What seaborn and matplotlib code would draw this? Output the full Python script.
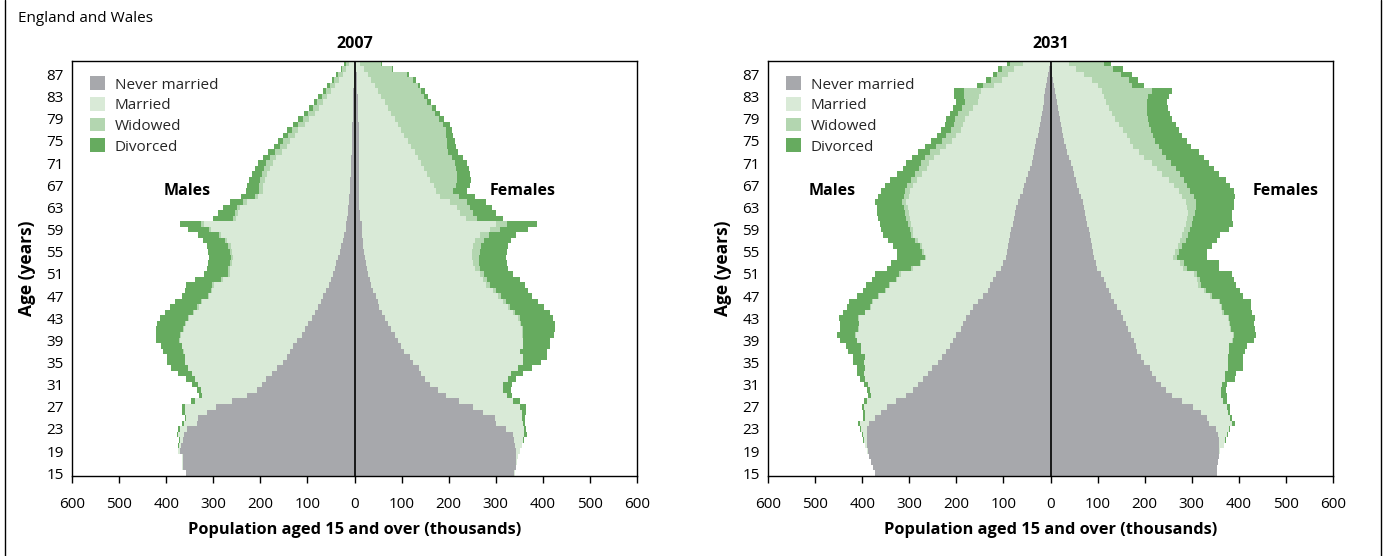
import numpy as np
import pandas as pd
import matplotlib
matplotlib.use("Agg")
import matplotlib.pyplot as plt
import seaborn as sns
from matplotlib.patches import Patch
from matplotlib.lines import Line2D

# ---------------- data (thousands), ages 15..89 ----------------
ages = list(range(15, 90))
statuses = ["Never married", "Married", "Widowed", "Divorced"]
years = ["2007", "2031"]
age_ticks = list(range(15, 88, 4))
x_ticks = list(range(-600, 601, 100))

males_2007_never = [358, 365, 365, 365, 371, 369, 364, 362, 355, 335,
                    333, 314, 294, 261, 229, 208, 197, 187, 176, 165,
                    152, 144, 137, 130, 123, 112, 105, 98, 91, 84,
                    77, 72, 66, 60, 55, 50, 45, 42, 39, 35,
                    31, 28, 25, 22, 19, 18, 16, 14, 13, 12,
                    11, 10, 9, 9, 8, 8, 7, 7, 6, 6,
                    6, 5, 5, 5, 4, 4, 4, 3, 3, 3,
                    2, 2, 2, 1, 1]
males_2007_married = [0, 1, 1, 2, 3, 4, 6, 12, 16, 28,
                      24, 47, 66, 78, 94, 118, 135, 152, 170, 188,
                      208, 216, 226, 236, 248, 256, 258, 260, 260, 257,
                      254, 251, 243, 242, 243, 230, 219, 222, 222, 223,
                      229, 235, 246, 261, 285, 302, 236, 233, 230, 217,
                      194, 185, 185, 182, 177, 172, 167, 159, 149, 138,
                      131, 122, 114, 101, 92, 80, 71, 63, 55, 46,
                      39, 30, 23, 16, 10]
males_2007_widowed = [0, 0, 0, 0, 0, 0, 0, 0, 0, 0,
                      0, 0, 0, 0, 0, 0, 0, 0, 0, 0,
                      0, 0, 1, 1, 1, 2, 2, 2, 2, 3,
                      3, 3, 3, 3, 4, 4, 4, 4, 4, 4,
                      5, 5, 5, 5, 5, 6, 6, 6, 6, 7,
                      7, 8, 9, 10, 11, 13, 13, 13, 14, 14,
                      14, 14, 14, 14, 14, 14, 13, 13, 12, 12,
                      12, 11, 10, 9, 8]
males_2007_divorced = [0, 0, 0, 0, 0, 1, 3, 4, 4, 3,
                       3, 5, 7, 9, 7, 9, 14, 18, 28, 36,
                       39, 39, 42, 43, 49, 52, 56, 59, 60, 59,
                       58, 56, 55, 55, 55, 55, 52, 46, 46, 46,
                       46, 46, 45, 44, 44, 45, 42, 36, 30, 28,
                       30, 27, 26, 24, 22, 18, 17, 15, 14, 13,
                       11, 11, 10, 10, 9, 9, 8, 7, 7, 6,
                       6, 5, 4, 3, 3]

females_2007_never = [338, 343, 344, 344, 343, 340, 338, 337, 321, 301,
                      298, 273, 252, 223, 195, 177, 160, 149, 142, 137,
                      124, 117, 106, 99, 92, 85, 78, 71, 65, 59,
                      53, 50, 45, 39, 35, 32, 29, 27, 25, 22,
                      20, 18, 17, 16, 15, 15, 12, 11, 10, 10,
                      9, 9, 9, 9, 9, 9, 9, 9, 9, 9,
                      9, 9, 9, 9, 8, 8, 8, 7, 7, 6,
                      6, 5, 5, 4, 3]
females_2007_married = [2, 1, 2, 4, 8, 15, 19, 23, 38, 57,
                        57, 82, 99, 114, 128, 138, 156, 177, 191, 211,
                        234, 241, 245, 258, 266, 270, 277, 280, 283, 278,
                        273, 266, 260, 255, 245, 241, 237, 228, 227, 228,
                        230, 234, 238, 250, 272, 285, 225, 214, 207, 192,
                        172, 165, 159, 152, 145, 139, 133, 126, 119, 112,
                        104, 97, 90, 83, 77, 70, 63, 57, 50, 44,
                        37, 30, 23, 17, 8]
females_2007_widowed = [0, 0, 0, 0, 0, 0, 0, 0, 0, 0,
                        0, 0, 0, 0, 0, 0, 0, 0, 0, 0,
                        0, 0, 0, 0, 0, 2, 3, 3, 4, 4,
                        5, 5, 6, 7, 8, 9, 10, 12, 13, 14,
                        16, 17, 20, 20, 22, 24, 24, 26, 28, 36,
                        40, 36, 47, 57, 64, 68, 71, 72, 71, 76,
                        83, 88, 95, 97, 94, 92, 93, 90, 91, 92,
                        91, 90, 84, 58, 46]
females_2007_divorced = [0, 0, 0, 0, 0, 0, 3, 7, 6, 4,
                         7, 10, 14, 14, 12, 18, 19, 18, 25, 30,
                         39, 50, 58, 58, 57, 66, 68, 72, 70, 74,
                         71, 69, 65, 68, 74, 69, 61, 59, 58, 57,
                         57, 57, 58, 58, 60, 63, 55, 50, 46, 42,
                         34, 28, 31, 30, 28, 27, 25, 23, 21, 19,
                         17, 15, 14, 13, 12, 11, 10, 9, 8, 7,
                         6, 5, 4, 3, 2]

males_2031_never = [373, 377, 381, 385, 388, 389, 390, 390, 389, 385,
                    373, 361, 348, 329, 307, 292, 281, 271, 260, 251,
                    239, 230, 221, 214, 208, 200, 191, 186, 179, 172,
                    165, 154, 143, 133, 129, 122, 115, 106, 100, 95,
                    92, 90, 88, 85, 83, 80, 78, 76, 73, 69,
                    64, 59, 56, 52, 48, 44, 40, 37, 35, 32,
                    30, 27, 25, 23, 21, 18, 16, 14, 13, 11,
                    9, 7, 6, 4, 2]
males_2031_married = [0, 0, 0, 0, 1, 4, 7, 8, 13, 19,
                      21, 33, 48, 61, 75, 91, 106, 122, 136, 143,
                      158, 164, 181, 189, 203, 214, 216, 220, 228, 221,
                      217, 224, 221, 217, 212, 203, 203, 187, 175, 169,
                      176, 183, 194, 206, 210, 216, 221, 225, 229, 238,
                      237, 239, 236, 232, 225, 219, 217, 211, 200, 191,
                      180, 173, 166, 162, 160, 156, 149, 140, 139, 137,
                      111, 96, 85, 74, 56]
males_2031_widowed = [0, 0, 0, 0, 0, 0, 0, 0, 0, 0,
                      0, 0, 0, 0, 0, 0, 0, 0, 0, 0,
                      0, 0, 0, 0, 1, 1, 1, 1, 1, 2,
                      2, 2, 2, 2, 3, 3, 3, 3, 3, 3,
                      4, 4, 5, 5, 6, 7, 7, 8, 9, 9,
                      10, 11, 12, 13, 15, 17, 18, 19, 20, 20,
                      21, 21, 21, 21, 21, 22, 24, 27, 31, 35,
                      24, 23, 23, 26, 28]
males_2031_divorced = [0, 0, 0, 0, 0, 1, 2, 3, 3, 4,
                       4, 5, 5, 6, 5, 6, 9, 12, 14, 18,
                       22, 26, 28, 32, 36, 38, 40, 41, 41, 45,
                       48, 48, 46, 46, 48, 52, 52, 52, 60, 58,
                       55, 57, 58, 59, 60, 60, 60, 59, 58, 57,
                       55, 52, 48, 44, 39, 34, 31, 28, 26, 24,
                       22, 21, 20, 19, 19, 18, 18, 19, 21, 23,
                       12, 10, 8, 8, 7]

females_2031_never = [353, 353, 355, 357, 358, 358, 357, 355, 352, 336,
                      333, 319, 303, 280, 259, 245, 234, 225, 216, 211,
                      199, 192, 184, 181, 177, 172, 165, 160, 155, 149,
                      141, 135, 128, 124, 117, 114, 107, 98, 96, 93,
                      91, 89, 86, 84, 81, 78, 76, 73, 71, 68,
                      64, 61, 57, 54, 50, 47, 43, 40, 36, 33,
                      29, 27, 25, 22, 20, 18, 15, 13, 11, 9,
                      8, 6, 4, 3, 2]
females_2031_married = [0, 0, 0, 1, 3, 10, 14, 20, 27, 49,
                        48, 58, 72, 87, 104, 117, 131, 146, 155, 167,
                        179, 186, 195, 198, 209, 216, 216, 219, 222, 216,
                        221, 222, 211, 202, 197, 197, 197, 183, 178, 168,
                        174, 182, 190, 196, 202, 209, 214, 219, 219, 219,
                        216, 212, 205, 198, 187, 180, 173, 159, 152, 143,
                        140, 135, 128, 124, 118, 113, 109, 104, 103, 101,
                        92, 83, 67, 51, 38]
females_2031_widowed = [0, 0, 0, 0, 0, 0, 0, 0, 0, 0,
                        0, 0, 0, 0, 0, 0, 0, 0, 0, 0,
                        0, 0, 0, 1, 1, 1, 2, 2, 2, 3,
                        3, 4, 4, 5, 6, 7, 8, 9, 9, 8,
                        8, 9, 11, 12, 14, 14, 13, 14, 18, 21,
                        25, 24, 28, 31, 39, 39, 39, 46, 49, 54,
                        54, 56, 60, 63, 69, 75, 80, 87, 93, 106,
                        74, 77, 79, 79, 74]
females_2031_divorced = [0, 0, 0, 0, 0, 0, 1, 2, 3, 6,
                         5, 5, 7, 8, 12, 10, 9, 20, 22, 30,
                         30, 31, 35, 38, 45, 48, 52, 52, 56, 60,
                         61, 64, 66, 72, 73, 71, 74, 68, 75, 64,
                         60, 63, 67, 69, 82, 87, 83, 80, 81, 81,
                         86, 92, 92, 89, 82, 81, 81, 81, 78, 68,
                         67, 62, 60, 57, 52, 48, 46, 43, 45, 41,
                         25, 20, 24, 20, 14]

data = {
    ("2007", "Males"): [males_2007_never, males_2007_married, males_2007_widowed, males_2007_divorced],
    ("2007", "Females"): [females_2007_never, females_2007_married, females_2007_widowed, females_2007_divorced],
    ("2031", "Males"): [males_2031_never, males_2031_married, males_2031_widowed, males_2031_divorced],
    ("2031", "Females"): [females_2031_never, females_2031_married, females_2031_widowed, females_2031_divorced],
}

colors = {"Never married": "#a7a8ac", "Married": "#d9ead7",
          "Widowed": "#b3d6b0", "Divorced": "#66ab5f"}

# ---------------- styling ----------------
sns.set_theme(style="white")
plt.rcParams["font.family"] = ["Open Sans", "DejaVu Sans"]
plt.rcParams["axes.edgecolor"] = "black"
plt.rcParams["axes.linewidth"] = 1.0

W, H = 1386, 556
fig = plt.figure(figsize=(W / 100, H / 100), dpi=100)
ax_w = 565 / W
ax_h = 415.3 / H
ax_b = 1 - 476 / H
axes = [fig.add_axes([72 / W, ax_b, ax_w, ax_h]),
        fig.add_axes([768 / W, ax_b, ax_w, ax_h])]

label_pos = {"2007": (0.2035, 0.798), "2031": (0.113, 0.917)}

for ax, year in zip(axes, years):
    for sex, sign in (("Males", -1), ("Females", 1)):
        vals = np.array(data[(year, sex)], dtype=float)
        cum = np.cumsum(vals, axis=0)
        for i in range(len(statuses) - 1, -1, -1):
            df = pd.DataFrame({"age": ages, "value": sign * cum[i]})
            sns.barplot(data=df, x="value", y="age", orient="y",
                        native_scale=True, width=1.0, saturation=1,
                        color=colors[statuses[i]], linewidth=0,
                        errorbar=None, antialiased=False, ax=ax)
    ax.axvline(0, color="black", lw=1.2, zorder=5)
    ax.set_xlim(-600, 600)
    ax.set_ylim(14.5, 89.5)
    ax.set_xticks(x_ticks)
    ax.set_xticklabels([str(abs(v)) for v in x_ticks])
    ax.set_yticks(age_ticks)
    ax.set_yticklabels([str(a) for a in age_ticks])
    ax.tick_params(axis="x", length=5, width=1, direction="out",
                   pad=10, labelsize=11, colors="black", bottom=True)
    ax.tick_params(axis="y", length=0, pad=6, labelsize=11, colors="black", left=True)
    for sp in ax.spines.values():
        sp.set_visible(True)
        sp.set_color("black")
        sp.set_linewidth(1.0)
    ax.set_xlabel("Population aged 15 and over (thousands)",
                  fontsize=11.8, fontweight="bold", color="black")
    ax.xaxis.set_label_coords(0.5, -0.11)
    ax.set_ylabel("Age (years)", fontsize=12.5, fontweight="bold", color="black")
    ax.yaxis.set_label_coords(-0.064, 0.5)
    ax.text(0.5, 1.040, year, transform=ax.transAxes, ha="center",
            va="center", fontsize=11.5, fontweight="bold", color="black")
    mx, fx = label_pos[year]
    ax.text(mx, 0.686, "Males", transform=ax.transAxes, ha="center",
            va="center", fontsize=11.5, fontweight="bold", color="black")
    ax.text(fx, 0.686, "Females", transform=ax.transAxes, ha="center",
            va="center", fontsize=11.5, fontweight="bold", color="black")
    handles = [Patch(facecolor=colors[s], edgecolor="none", label=s) for s in statuses]
    ax.legend(handles=handles, loc="upper left", bbox_to_anchor=(0.032, 0.962),
              frameon=False, borderaxespad=0, borderpad=0, handlelength=1.0,
              handleheight=1.0, handletextpad=0.6, labelspacing=0.3,
              fontsize=11)

fig.text(18 / W, 1 - 18 / H, "England and Wales", ha="left", va="center",
         fontsize=11, color="black")
fig.add_artist(Line2D([5 / W, 5 / W], [0, 1], transform=fig.transFigure,
                      color="black", lw=1.0))
fig.add_artist(Line2D([1381 / W, 1381 / W], [0, 1], transform=fig.transFigure,
                      color="black", lw=1.0))

fig.savefig("out.png", dpi=100)
